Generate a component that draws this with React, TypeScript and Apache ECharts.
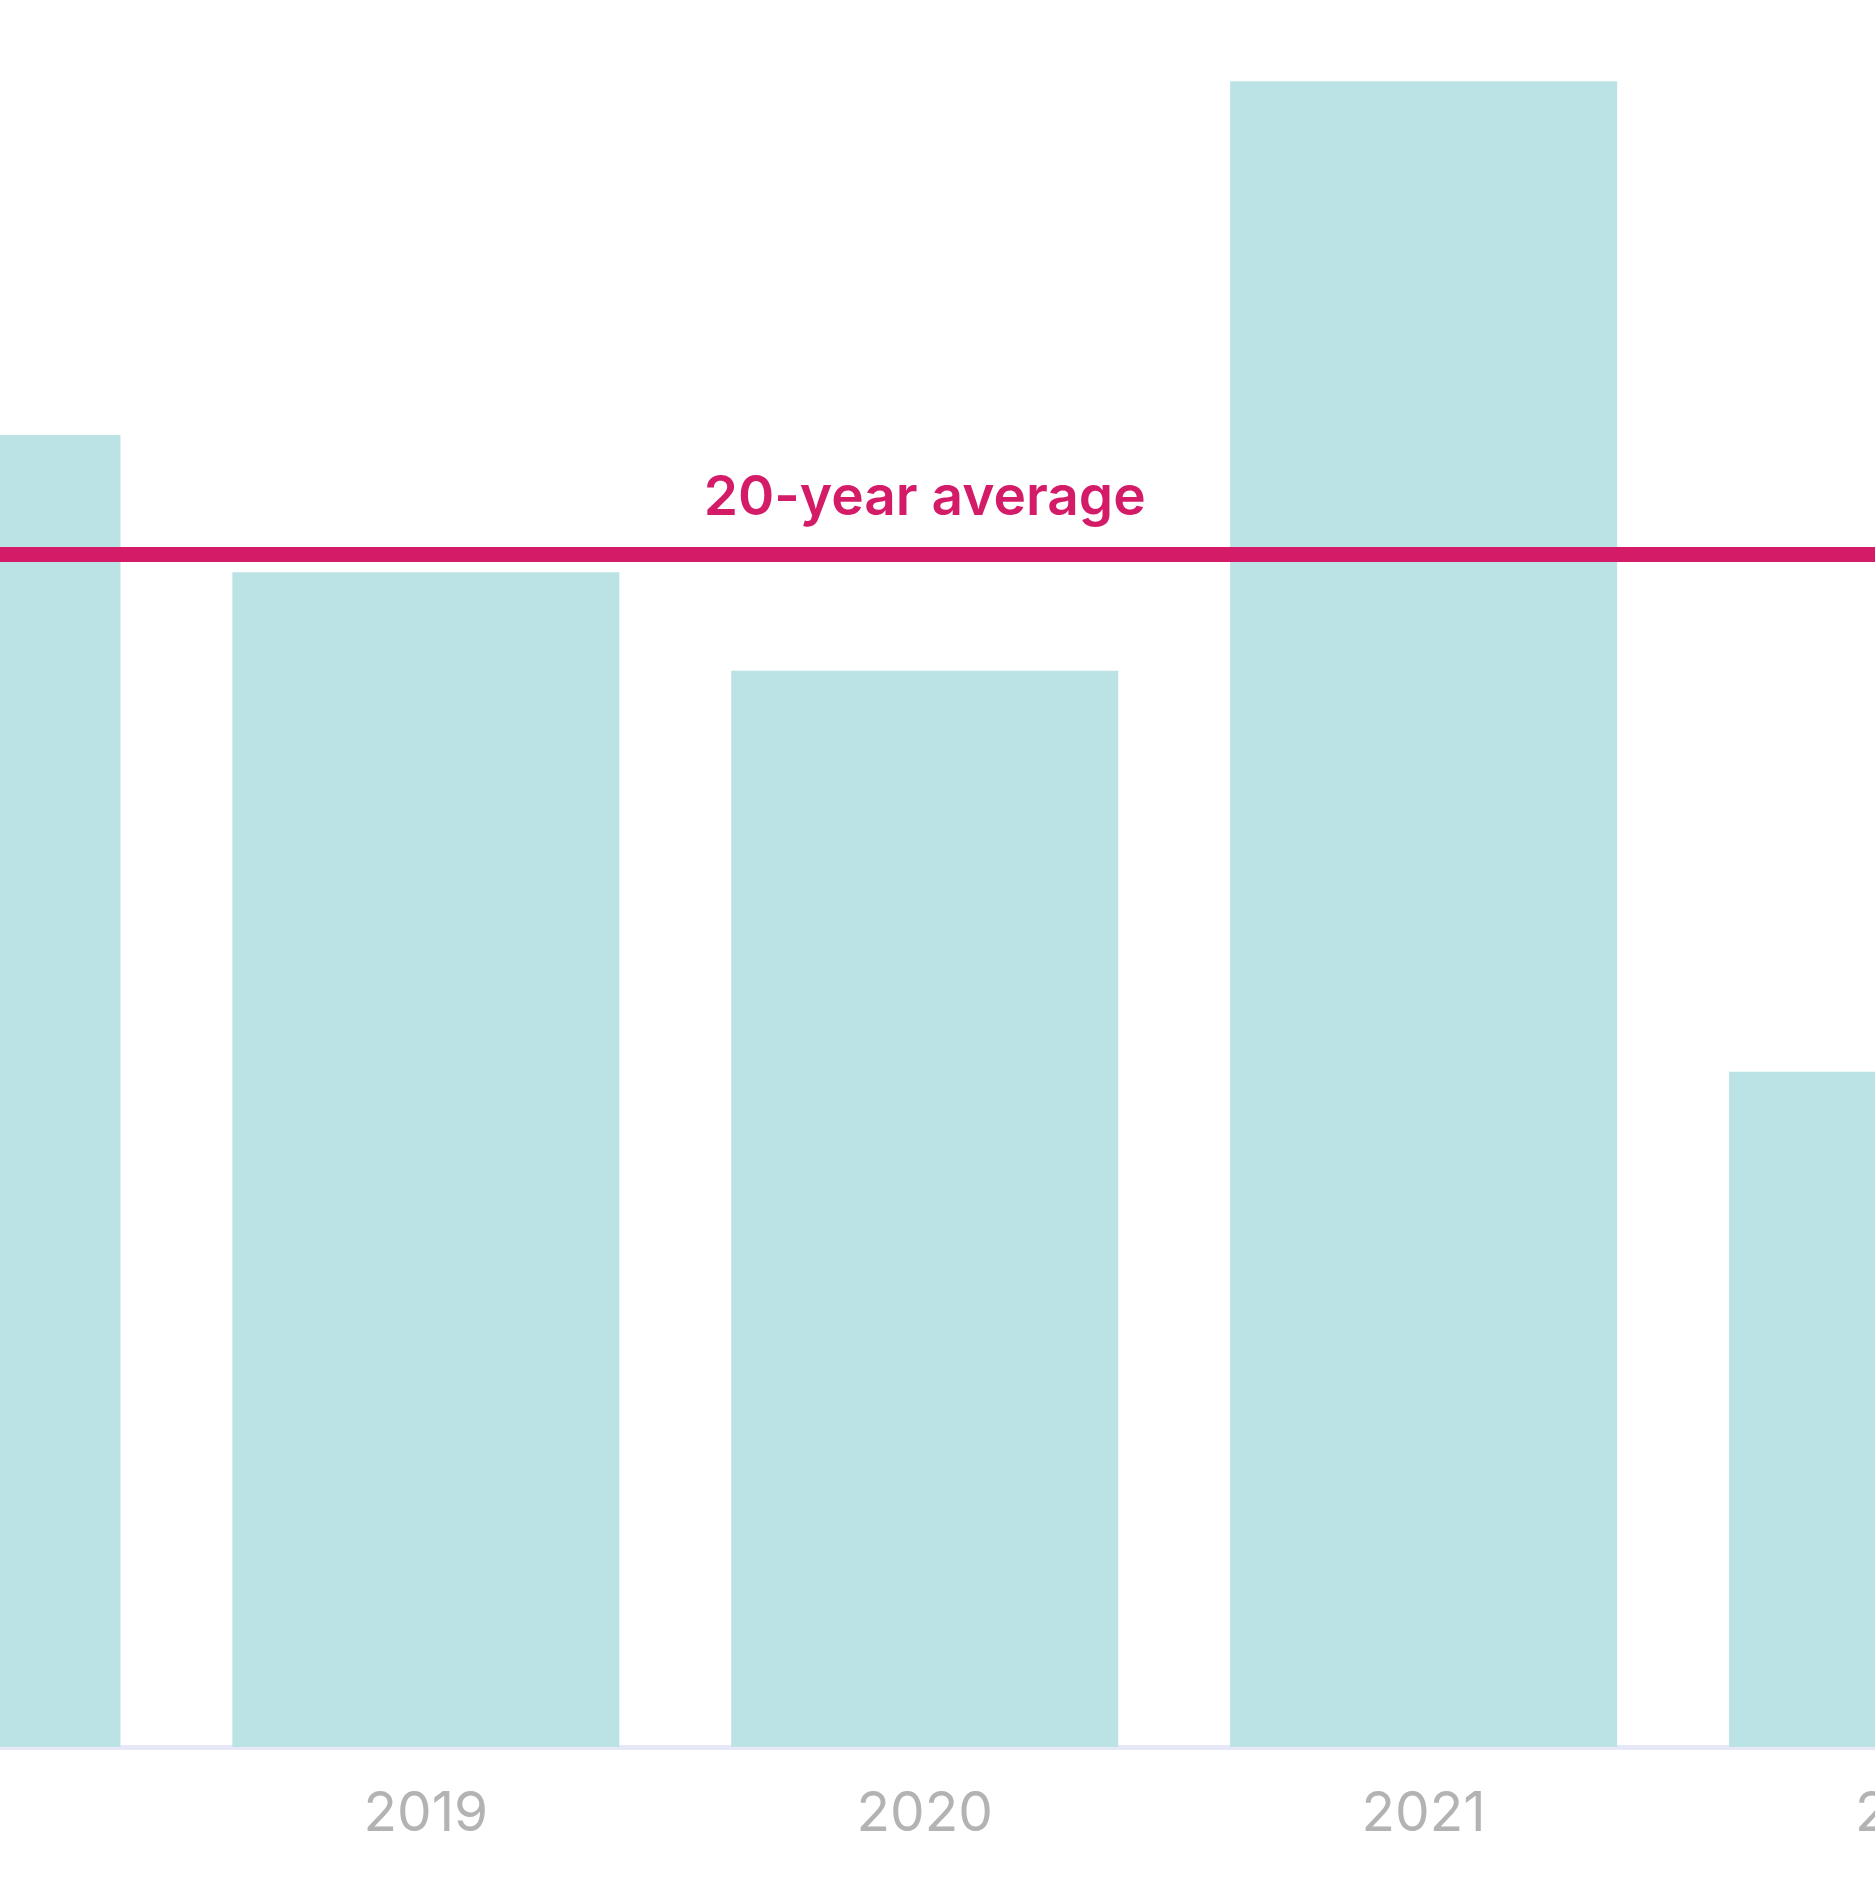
import React, { useEffect, useRef } from "react";
import * as echarts from "echarts";

const years = ["2018", "2019", "2020", "2021", "2022"];
const values = [75.1, 67.25, 61.6, 95.35, 38.65];
const averageValue = 68.26;
const averageLabel = "20-year average";

const BAR = "#bbe3e6";
const PINK = "#d41b68";
const AXIS = "#e6e8f7";
const LABEL = "#b3b3b3";

export default function App() {
  const ref = useRef<HTMLDivElement>(null);
  useEffect(() => {
    if (!ref.current) return;
    const chart = echarts.init(ref.current, null, { renderer: "svg" });
    chart.setOption({
      animation: false,
      backgroundColor: "#ffffff",
      grid: { left: 77.5, top: 0, width: 2494.5, height: 1747 },
      xAxis: {
        type: "category",
        data: years,
        axisLine: { show: true, lineStyle: { color: AXIS, width: 5 } },
        axisTick: { show: false },
        axisLabel: {
          color: LABEL,
          fontFamily: "Inter",
          fontSize: 55,
          margin: 36,
        },
        splitLine: { show: false },
      },
      yAxis: {
        type: "value",
        min: 0,
        max: 100,
        show: false,
        splitLine: { show: false },
      },
      series: [
        {
          type: "bar",
          data: values,
          barWidth: 387,
          itemStyle: { color: BAR },
          markLine: {
            silent: true,
            symbol: ["none", "none"],
            data: [{ yAxis: averageValue }],
            lineStyle: { color: PINK, width: 15, type: "solid" },
            label: {
              show: true,
              formatter: averageLabel,
              position: "insideMiddleTop",
              distance: 32,
              color: PINK,
              fontFamily: "Inter",
              fontWeight: 600,
              fontSize: 55,
            },
            emphasis: { disabled: true },
          },
        },
      ],
    });
    return () => chart.dispose();
  }, []);
  return (
    <div
      style={{
        position: "fixed",
        left: 0,
        top: 0,
        width: 1875,
        height: 1877,
        overflow: "hidden",
        background: "#ffffff",
      }}
    >
      <div
        ref={ref}
        style={{ position: "absolute", left: -400, top: 0, width: 2672, height: 1877 }}
      />
    </div>
  );
}
